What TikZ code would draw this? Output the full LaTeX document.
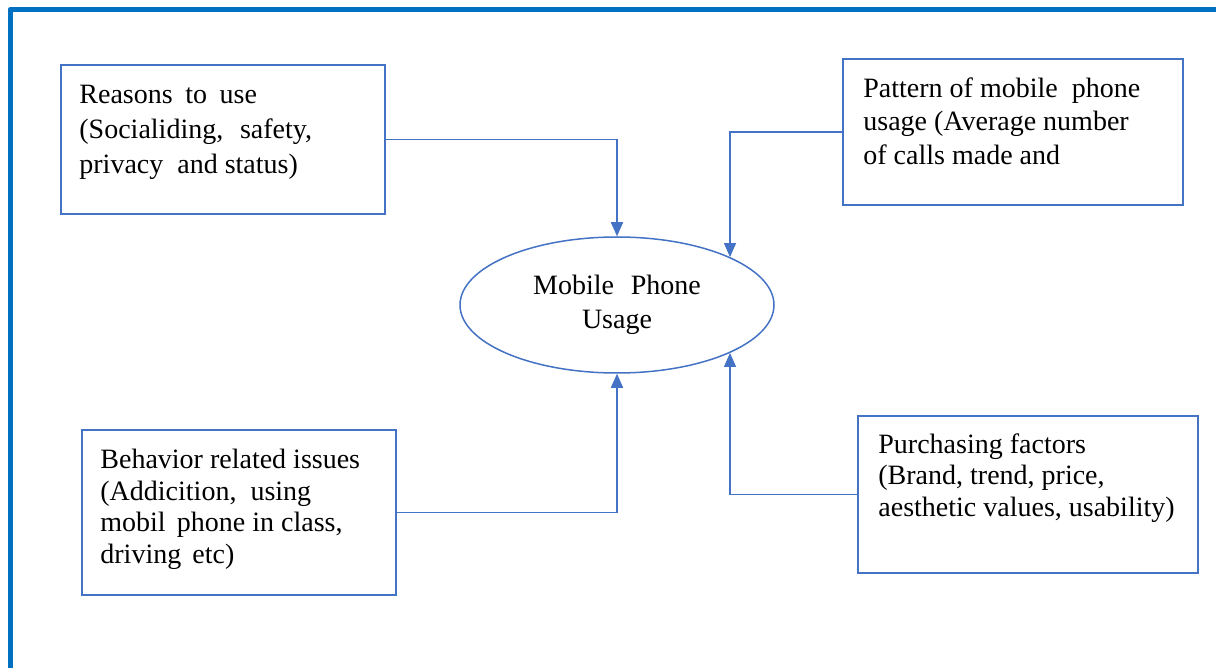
\documentclass[tikz,border=0pt]{standalone}
\usepackage{fontspec}
\setmainfont{Liberation Serif}
\usepackage{tikz}
\usetikzlibrary{shapes.geometric, arrows.meta}
\definecolor{boxblue}{RGB}{68,114,196}
\definecolor{frameblue}{RGB}{0,112,192}

\begin{document}
\begin{tikzpicture}[
  x=0.5pt, y=-0.5pt,
  box/.style={draw=boxblue,line width=0.75pt,rectangle,inner sep=0pt},
  txt/.style={anchor=north west,inner sep=0pt,align=left,font=\fontsize{14}{16.75}\selectfont},
  lowtxt/.style={txt,font=\fontsize{14}{15.75}\selectfont},
  usagebox/.style={draw=boxblue,line width=0.75pt,ellipse,inner sep=0pt,
              minimum width=157pt,minimum height=68pt,align=center,
              font=\fontsize{14}{17.25}\selectfont},
  arrow/.style={-{Triangle[length=7pt,width=6pt]},draw=boxblue,line width=0.75pt},
  frame/.style={draw=frameblue,line width=2.5pt,line join=round}
]
  \useasboundingbox (0,0) rectangle (1216,668);
  \draw[frame] (10,668) -- (10,9.5) -- (1216,9.5);

  \node[usagebox] (usage) at (617,305) {Mobile\hspace{0.6em}Phone\\Usage};

  \node[box,minimum width=162pt,minimum height=74.5pt] (reasons) at (223,139.5) {};
  \node[txt,font=\fontsize{14}{17.5}\selectfont] (reasons-t) at (79,85) {Reasons\hspace{0.45em}to\hspace{0.45em}use\\(Socialiding,\hspace{0.6em}safety,\\privacy\hspace{0.5em}and status)};

  \node[box,minimum width=170pt,minimum height=73pt] (pattern) at (1013,132) {};
  \node[txt] (pattern-t) at (863,77) {Pattern of mobile\hspace{0.5em}phone\\usage (Average number\\of calls made and};

  \node[box,minimum width=157pt,minimum height=82.5pt] (behavior) at (239,512.5) {};
  \node[lowtxt] (behavior-t) at (100,449) {Behavior related issues\\(Addicition,\hspace{0.5em}using\\mobil\hspace{0.4em}phone in class,\\driving\hspace{0.4em}etc)};

  \node[box,minimum width=170pt,minimum height=78.5pt] (purchasing) at (1028,494.5) {};
  \node[lowtxt] (purchasing-t) at (878,433) {Purchasing factors\\(Brand, trend, price,\\aesthetic values, usability)};

  \draw[arrow] (reasons.east) -| (usage.north);
  \draw[arrow] (pattern.west) -| (usage.23);
  \draw[arrow] (behavior.east) -| (usage.south);
  \draw[arrow] (purchasing.west) -| (usage.337);
\end{tikzpicture}
\end{document}
